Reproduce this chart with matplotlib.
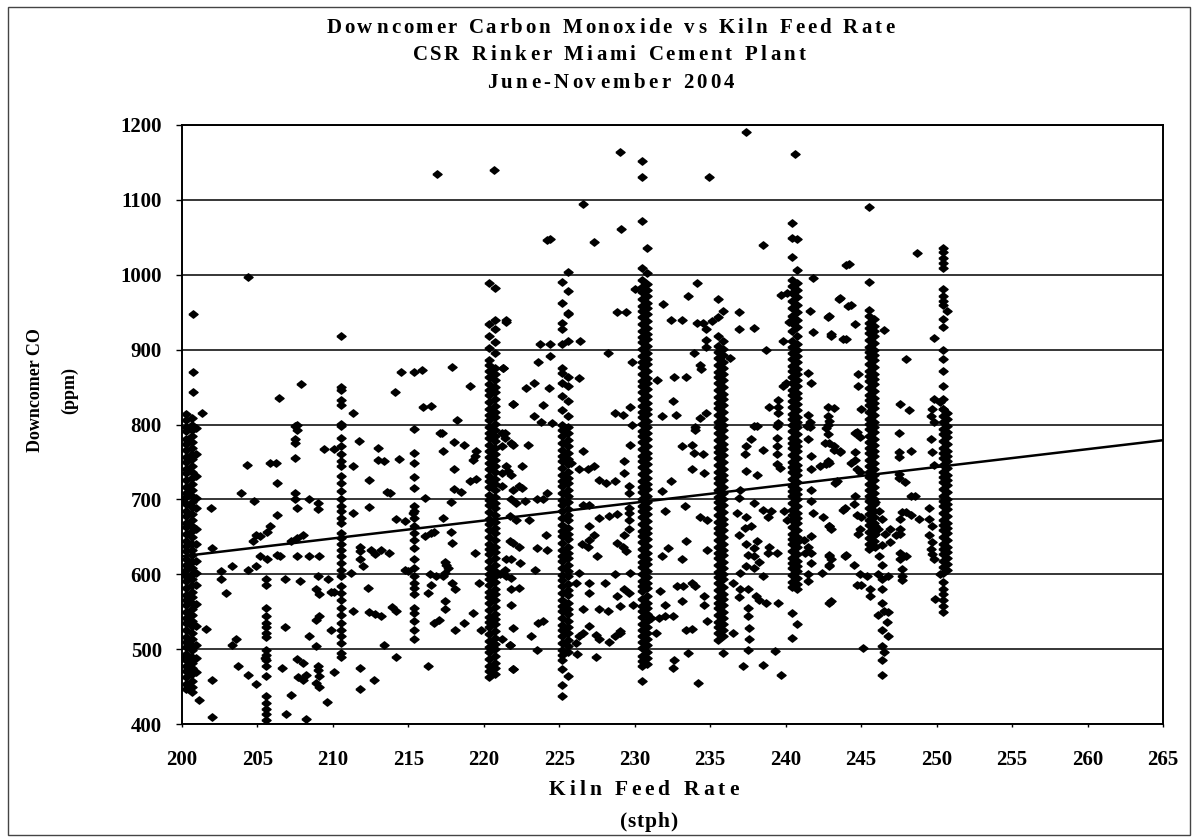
import numpy as np
import matplotlib
matplotlib.use("Agg")
import matplotlib.pyplot as plt
from matplotlib.patches import Rectangle
from matplotlib.font_manager import FontProperties
from matplotlib.textpath import TextPath

plt.rcParams['font.family'] = ['Liberation Serif', 'DejaVu Serif']
plt.rcParams['font.weight'] = 'bold'

# --- dense vertical clusters (feed rate held steady), y values ---
col_200a = [814, 806, 797, 791, 781, 774, 766, 756, 750, 741, 735, 726, 716, 709, 703, 694, 684, 678, 669, 663, 654,
            644, 638, 631, 621, 612, 606, 597, 591, 582, 572, 566, 559, 549, 542, 535, 526, 516, 510, 503, 494,
            485, 478, 471, 463, 454, 447]
col_200b = [809, 799, 793, 785, 777, 768, 760, 754, 745, 736, 729, 721, 713, 704, 697, 690, 681, 672, 665, 658,
            650, 640, 633, 626, 617, 608, 601, 594, 586, 576, 569, 562, 553, 545, 538, 531, 521, 513, 506, 499,
            490, 481, 475, 467, 458, 450, 443]
col_200c = [795, 760, 731, 702, 688, 660, 640, 618, 602, 586, 560, 531, 505, 488, 470]
col_205 = [593, 586, 555, 544, 535, 529, 522, 516, 499, 492, 485, 477, 464, 437, 428, 420, 413, 405]
col_210 = [918, 850, 846, 833, 826, 801, 798, 782, 771, 760, 751, 744, 731, 722, 711, 700, 691, 684, 675, 669,
           655, 648, 640, 633, 624, 615, 606, 597, 584, 575, 566, 555, 546, 535, 526, 517, 508, 495, 490]
col_215 = [762, 748, 730, 715, 691, 684, 675, 664, 655, 646, 635, 620, 608, 597, 588, 581, 573, 555, 548, 537,
           526, 513]
col_220a = [989, 934, 918, 902, 886, 880, 872, 863, 854, 846, 839, 830, 821, 813, 806, 797, 789, 782, 773, 764,
            757, 749, 740, 731, 724, 716, 706, 699, 692, 683, 674, 667, 659, 650, 641, 634, 627, 618, 608, 601,
            594, 585, 576, 569, 561, 552, 543, 536, 529, 520, 511, 503, 496, 487, 478, 471, 463]
col_220b = [982, 940, 927, 910, 895, 876, 868, 859, 850, 843, 834, 825, 817, 810, 801, 792, 785, 778, 769, 760,
            752, 745, 736, 727, 720, 712, 703, 695, 688, 679, 670, 662, 655, 646, 637, 630, 622, 612, 605, 598,
            589, 580, 573, 566, 556, 547, 540, 533, 524, 515, 507, 500, 491, 482, 475, 467]
col_225a = [990, 962, 935, 927, 907, 876, 869, 856, 838, 820, 800, 792, 784, 775, 766, 758, 751, 742, 732, 725,
            718, 708, 699, 692, 684, 675, 666, 658, 651, 642, 632, 625, 618, 608, 599, 592, 584, 575, 566, 558,
            551, 542, 532, 525, 518, 508, 499, 492, 486, 473, 452, 437]
col_225b = [1004, 978, 949, 947, 911, 864, 851, 831, 811, 789, 796, 779, 771, 762, 754, 747, 737, 729, 722, 712,
            704, 697, 687, 679, 672, 662, 654, 647, 637, 629, 622, 612, 604, 597, 587, 579, 572, 562, 554, 547,
            537, 529, 522, 512, 504, 496, 464]
col_230a = [1152, 1130, 1072, 1009, 993, 984, 977, 967, 958, 951, 943, 934, 925, 917, 910, 901, 891, 884, 877,
            867, 858, 851, 843, 834, 825, 817, 810, 801, 791, 784, 777, 767, 758, 751, 743, 734, 725, 717, 710,
            701, 691, 684, 677, 667, 658, 651, 643, 634, 625, 617, 610, 601, 591, 584, 577, 567, 558, 551, 543,
            534, 525, 517, 510, 501, 491, 484, 477, 457]
col_230b = [1036, 1002, 988, 980, 971, 962, 955, 947, 938, 929, 921, 914, 905, 896, 888, 881, 871, 862, 855, 847,
            838, 829, 821, 814, 805, 796, 788, 781, 771, 762, 755, 747, 738, 729, 721, 714, 705, 696, 688, 681,
            671, 662, 655, 647, 638, 629, 621, 614, 605, 596, 588, 581, 571, 562, 555, 547, 538, 529, 521, 514,
            505, 496, 488, 480]
col_235a = [967, 944, 918, 905, 897, 889, 880, 870, 863, 856, 846, 837, 829, 822, 813, 803, 796, 789, 779, 770,
            763, 755, 746, 737, 729, 722, 712, 703, 696, 688, 679, 670, 662, 655, 646, 636, 629, 622, 612, 603,
            596, 588, 579, 570, 562, 555, 546, 536, 529, 521, 512]
col_235b = [951, 912, 901, 893, 884, 875, 867, 860, 850, 841, 834, 826, 817, 808, 800, 793, 783, 774, 767, 759,
            750, 741, 733, 726, 717, 708, 700, 693, 683, 674, 667, 659, 650, 641, 633, 626, 617, 608, 600, 593,
            583, 574, 567, 559, 550, 541, 533, 525, 517, 495]
col_240a = [1069, 1049, 1024, 993, 985, 975, 965, 955, 945, 935, 925, 911, 903, 896, 887, 878, 871, 864, 855,
            846, 839, 832, 823, 814, 807, 800, 791, 782, 775, 768, 759, 750, 743, 736, 727, 718, 711, 704, 695,
            686, 679, 672, 663, 654, 647, 640, 631, 622, 615, 608, 599, 590, 583, 548, 515]
col_240b = [1048, 1007, 989, 980, 970, 960, 950, 940, 930, 918, 907, 899, 892, 883, 874, 867, 860, 851, 842, 835,
            828, 819, 810, 803, 796, 787, 778, 771, 764, 755, 746, 739, 732, 723, 714, 707, 700, 691, 682, 675,
            668, 659, 650, 643, 636, 627, 618, 611, 604, 595, 587, 580, 533]
col_245a = [1090, 990, 953, 945, 936, 929, 922, 913, 904, 897, 890, 881, 872, 865, 858, 849, 840, 833, 826, 817,
            808, 801, 794, 785, 776, 769, 762, 753, 744, 737, 730, 721, 712, 705, 698, 689, 680, 673, 666, 657,
            648, 641, 634]
col_245b = [941, 932, 925, 918, 909, 900, 893, 886, 877, 868, 861, 854, 845, 836, 829, 822, 813, 804, 797, 790,
            781, 772, 765, 758, 749, 740, 733, 726, 717, 708, 701, 694, 685, 676, 669, 662, 653, 645, 638]
col_250a = [1036, 1030, 1023, 1016, 1009, 981, 972, 965, 959, 941, 930, 899, 888, 872, 852, 834, 821, 812, 803,
            794, 787, 778, 769, 762, 755, 746, 737, 730, 723, 714, 705, 698, 691, 682, 673, 666, 659, 650, 641,
            634, 627, 618, 610, 602, 589, 580, 574, 565, 558, 549]
col_250b = [952, 816, 808, 798, 790, 783, 774, 765, 758, 751, 742, 733, 726, 719, 710, 701, 694, 687, 678, 669,
            662, 655, 646, 637, 630, 622, 614, 606]

columns = [(200.25, col_200a), (200.65, col_200b), (200.95, col_200c), (205.55, col_205), (210.55, col_210),
           (215.4, col_215), (220.35, col_220a), (220.75, col_220b), (225.2, col_225a), (225.55, col_225b),
           (230.45, col_230a), (230.8, col_230b), (235.5, col_235a), (235.85, col_235b), (240.4, col_240a),
           (240.75, col_240b), (245.5, col_245a), (245.85, col_245b), (250.45, col_250a), (250.7, col_250b)]

# --- scattered readings between the clusters: (feed rate, CO) ---
scatter_200_212 = [
    (200.0, 700), (200.0, 600), (200.0, 488), (200.75, 948), (200.7, 870), (200.7, 844), (201.1, 432),
    (201.3, 815), (201.9, 689), (202.0, 635), (202.6, 604), (202.6, 593), (202.9, 575), (203.3, 611),
    (202.0, 459), (202.0, 409), (201.6, 527), (204.3, 746), (203.9, 708), (204.8, 698), (205.8, 749),
    (206.2, 749), (206.3, 722), (206.3, 679), (205.8, 665), (205.6, 657), (204.9, 653), (205.2, 651),
    (204.7, 645), (205.2, 624), (205.6, 620), (204.9, 611), (204.4, 606), (206.3, 626), (206.8, 594),
    (206.5, 624), (206.8, 530), (207.2, 644), (207.6, 649), (208.0, 652), (207.6, 625), (207.8, 591),
    (207.5, 709), (207.5, 700), (207.6, 689), (207.5, 798), (207.5, 780), (207.5, 775), (207.5, 755),
    (203.7, 477), (204.4, 466), (204.9, 453), (203.3, 506), (203.6, 514), (206.6, 475), (207.2, 439),
    (206.9, 413), (208.2, 407), (207.6, 487), (208.0, 482), (208.2, 466), (208.0, 459), (207.7, 463),
    (209.0, 477), (209.0, 472), (209.1, 464), (208.9, 455), (209.1, 450), (209.6, 430), (208.4, 517),
    (208.9, 504), (209.4, 767), (210.1, 767), (209.0, 687), (208.4, 700), (209.0, 695), (209.1, 624),
    (208.4, 624), (209.7, 593), (209.0, 597), (208.9, 580), (209.1, 573), (209.9, 576), (210.1, 576),
    (208.9, 539), (209.1, 544), (209.9, 526), (210.1, 470), (211.3, 744), (211.7, 778), (212.4, 726),
    (204.4, 997), (206.4, 836), (207.9, 854), (207.6, 799), (207.6, 793), (211.3, 815), (205.5, 488),
    (211.3, 682), (211.8, 637), (211.8, 631), (211.8, 620), (212.0, 611), (211.2, 602), (211.3, 551),
    (212.3, 582), (212.4, 690), (211.8, 475), (211.8, 447), (212.7, 459), (212.4, 549), (212.8, 547),
]
scatter_212_224 = [
    (213.0, 768), (213.0, 753), (213.4, 751), (214.4, 754), (213.6, 710), (213.8, 708), (212.5, 633),
    (213.2, 633), (213.7, 629), (212.8, 627), (213.2, 544), (213.9, 556), (214.2, 551), (213.4, 506),
    (214.2, 490), (214.2, 674), (214.8, 671), (215.3, 682), (214.8, 606), (215.0, 604), (216.1, 702),
    (216.5, 655), (216.7, 657), (216.1, 651), (216.4, 600), (216.8, 598), (216.3, 575), (216.5, 585),
    (216.7, 535), (217.0, 539), (216.3, 477), (217.1, 788), (217.3, 764), (218.0, 776), (218.7, 772),
    (218.0, 740), (218.0, 714), (218.5, 710), (217.8, 696), (217.3, 675), (217.8, 656), (217.9, 642),
    (217.4, 617), (217.5, 613), (217.6, 608), (217.4, 602), (217.3, 597), (217.9, 588), (218.1, 580),
    (217.4, 564), (217.4, 553), (218.1, 526), (218.7, 535), (219.3, 753), (219.4, 758), (219.5, 764),
    (219.1, 724), (219.5, 727), (219.4, 628), (219.7, 588), (219.3, 548), (219.8, 526), (216.9, 1135),
    (220.7, 1140), (221.5, 937), (221.3, 875), (221.9, 827), (214.1, 844), (214.5, 870), (215.4, 870),
    (215.9, 873), (217.9, 877), (219.1, 852), (216.0, 823), (216.5, 825), (218.2, 806), (215.4, 794),
    (217.2, 789), (221.4, 789), (221.2, 789), (221.4, 782), (221.9, 773), (221.2, 735), (221.8, 733),
    (221.2, 718), (221.9, 712), (222.1, 695), (221.7, 678), (222.1, 673), (221.9, 642), (221.8, 620),
    (221.4, 606), (221.5, 597), (221.8, 580), (221.2, 513), (221.7, 506), (221.9, 473), (221.5, 939),
    (221.3, 876), (221.9, 828), (222.8, 849), (223.3, 856), (223.6, 884), (224.4, 891), (223.7, 907),
    (224.4, 907), (224.3, 849), (223.9, 826), (223.3, 811), (223.8, 804), (224.5, 802), (224.4, 1048),
    (221.2, 771), (221.8, 775), (222.9, 773), (221.5, 744), (221.6, 738), (222.5, 745), (222.3, 718),
    (222.5, 715), (224.2, 709), (223.5, 700), (223.9, 700), (221.8, 700), (222.7, 698), (223.0, 673),
    (221.7, 644), (222.3, 637), (223.5, 635), (224.2, 633), (224.1, 653), (221.5, 620), (222.4, 615),
    (223.4, 606), (221.1, 600), (221.8, 595), (222.3, 582), (221.8, 559), (221.9, 528), (223.6, 535),
    (223.9, 537), (223.1, 517), (221.7, 505), (223.5, 499), (221.9, 473),
]
scatter_224_236 = [
    (229.0, 1164), (237.4, 1191), (234.9, 1131), (226.6, 1094), (227.3, 1044), (229.1, 1061),
    (226.4, 911), (228.2, 896), (228.8, 950), (229.4, 950), (230.0, 981), (229.8, 883), (231.5, 859),
    (231.9, 961), (232.4, 939), (233.1, 939), (232.6, 864), (233.4, 864), (234.1, 989), (233.5, 972),
    (234.1, 936), (234.5, 935), (235.1, 938), (234.7, 927), (234.7, 913), (234.7, 904), (233.9, 896),
    (234.3, 880), (234.4, 874), (226.3, 862), (234.3, 809), (234.7, 816), (234.0, 796), (232.5, 831),
    (232.7, 813), (231.8, 811), (228.7, 816), (229.2, 813), (229.7, 823), (229.8, 800), (236.3, 889),
    (236.9, 950), (236.9, 927), (237.9, 929), (226.6, 764), (225.8, 749), (226.3, 740), (226.9, 740),
    (227.3, 744), (227.6, 726), (228.1, 722), (228.7, 724), (226.6, 693), (227.0, 693), (227.6, 675),
    (228.3, 678), (228.8, 680), (227.0, 664), (227.3, 653), (227.0, 646), (226.5, 640), (226.9, 637),
    (227.5, 624), (226.3, 602), (226.1, 588), (227.0, 588), (227.0, 575), (226.6, 553), (227.6, 553),
    (228.2, 551), (226.3, 517), (226.6, 522), (227.0, 531), (227.4, 519), (227.6, 513), (226.1, 508),
    (226.2, 493), (227.4, 490), (228.0, 588), (228.7, 600), (228.8, 571), (229.0, 557), (228.7, 517),
    (229.0, 524), (229.3, 751), (229.3, 735), (229.7, 773), (229.6, 718), (229.6, 709), (229.6, 689),
    (229.6, 682), (229.6, 673), (229.6, 660), (228.8, 642), (229.2, 637), (229.3, 653), (229.4, 631),
    (229.3, 580), (229.6, 575), (229.9, 559), (229.7, 602), (229.0, 522), (228.3, 510), (231.1, 542),
    (231.6, 542), (232.0, 544), (232.5, 544), (231.4, 522), (232.4, 724), (231.8, 711), (232.0, 684),
    (231.8, 624), (232.2, 635), (231.7, 577), (232.0, 559), (232.8, 584), (233.2, 584), (233.1, 564),
    (232.6, 486), (232.5, 475), (233.1, 771), (233.8, 773), (233.9, 762), (234.5, 760), (233.8, 740),
    (234.6, 735), (234.0, 793), (233.3, 691), (233.1, 620), (233.4, 644), (234.3, 677), (234.8, 673),
    (233.8, 588), (234.0, 584), (234.8, 633), (234.6, 571), (234.6, 559), (234.8, 537), (233.4, 526),
    (233.8, 527), (233.5, 495), (234.2, 455), (224.2, 1047),
]
scatter_236_252 = [
    (236.5, 522), (237.4, 771), (237.7, 780), (237.3, 760), (238.5, 766), (237.4, 738), (238.1, 733),
    (237.9, 798), (239.4, 798), (239.4, 782), (239.4, 771), (239.4, 760), (239.4, 747), (239.6, 742),
    (237.0, 713), (236.9, 702), (237.9, 695), (238.5, 686), (237.4, 677), (238.8, 677), (239.0, 684),
    (239.9, 684), (240.1, 673), (236.8, 682), (237.3, 662), (237.7, 664), (236.9, 653), (237.4, 640),
    (237.9, 635), (238.1, 644), (237.5, 626), (237.9, 624), (238.2, 617), (237.4, 611), (237.9, 608),
    (238.8, 628), (239.4, 628), (238.9, 637), (237.0, 602), (238.5, 597), (236.5, 588), (237.0, 580),
    (237.5, 580), (238.0, 571), (238.2, 566), (238.7, 562), (239.5, 562), (237.5, 555), (237.5, 544),
    (237.6, 528), (237.6, 513), (237.5, 499), (237.2, 477), (238.5, 479), (239.3, 497), (239.7, 466),
    (236.9, 569), (238.5, 1040), (238.7, 900), (240.6, 1161), (239.7, 973), (240.1, 976), (240.2, 937),
    (239.8, 911), (241.8, 996), (241.6, 951), (241.8, 924), (242.8, 943), (243.0, 918), (243.8, 914),
    (243.5, 968), (244.0, 1013), (244.1, 958), (241.5, 869), (241.7, 856), (239.8, 851), (240.0, 856),
    (239.5, 833), (239.5, 824), (239.5, 816), (238.9, 824), (239.5, 802), (241.5, 813), (241.6, 804),
    (241.6, 796), (242.8, 824), (242.8, 811), (242.8, 800), (242.8, 787), (238.1, 798), (241.4, 798),
    (241.5, 780), (241.7, 758), (241.7, 740), (242.3, 744), (242.8, 751), (242.7, 795), (242.6, 775),
    (243.2, 771), (243.6, 764), (242.7, 747), (241.7, 713), (241.7, 698), (241.8, 682), (242.5, 677),
    (242.9, 664), (243.0, 660), (241.7, 651), (241.5, 637), (241.7, 629), (241.7, 615), (241.2, 646),
    (241.3, 628), (241.5, 600), (241.5, 591), (242.9, 626), (243.0, 620), (242.9, 611), (242.4, 602),
    (243.0, 564), (243.8, 686), (244.0, 626), (243.3, 722), (248.7, 1029), (244.2, 1014), (243.6, 969),
    (244.3, 959), (242.9, 945), (243.0, 921), (244.6, 934), (244.0, 914), (246.5, 926), (249.8, 916),
    (248.0, 888), (247.6, 828), (248.2, 819), (247.5, 788), (244.8, 868), (244.8, 852), (245.0, 821),
    (244.6, 788), (249.8, 834), (249.7, 821), (249.6, 812), (249.8, 803), (243.2, 822), (242.9, 805),
    (244.7, 790), (244.9, 783), (244.6, 763), (242.9, 775), (243.2, 766), (243.6, 763), (242.9, 748),
    (243.4, 725), (244.3, 748), (244.6, 752), (244.7, 741), (244.9, 737), (247.5, 763), (247.5, 757),
    (248.3, 764), (247.5, 734), (247.5, 728), (247.9, 723), (249.7, 763), (249.8, 746), (249.6, 781),
    (248.3, 705), (248.6, 705), (244.6, 705), (244.5, 694), (243.9, 688), (242.9, 665), (244.7, 679),
    (245.0, 676), (244.9, 661), (244.8, 654), (245.9, 696), (246.2, 685), (246.4, 674), (245.9, 665),
    (246.1, 661), (245.9, 654), (246.6, 654), (246.9, 661), (247.3, 652), (246.9, 643), (246.4, 639),
    (245.9, 636), (247.6, 674), (247.7, 683), (248.0, 683), (248.3, 679), (248.8, 674), (247.6, 661),
    (247.6, 654), (242.9, 625), (242.9, 612), (243.9, 625), (244.5, 612), (244.9, 600), (245.4, 598),
    (245.0, 585), (245.6, 580), (244.7, 585), (245.6, 571), (246.2, 625), (246.4, 612), (246.1, 600),
    (246.4, 594), (246.8, 598), (246.4, 580), (246.4, 562), (246.5, 551), (246.1, 545), (246.8, 549),
    (246.7, 536), (246.4, 525), (246.8, 518), (246.4, 504), (246.5, 496), (246.4, 486), (246.4, 466),
    (245.1, 502), (247.6, 629), (247.6, 621), (248.0, 625), (247.7, 607), (247.7, 598), (247.7, 592),
    (242.9, 562), (249.5, 688), (249.5, 674), (249.7, 665), (249.5, 652), (249.7, 643), (249.6, 634),
    (249.7, 627), (249.8, 621), (250.2, 600), (249.9, 567), (250.2, 830), (250.4, 821), (250.6, 816),
]

# least-squares trend line end points, as drawn on the chart
trend_x = [200, 265]
trend_y = [624, 779]

W, H = 1196, 839
fig = plt.figure(figsize=(W / 100, H / 100), dpi=100)
ax = fig.add_axes([182 / W, 1 - 724 / H, (1163 - 182) / W, (724 - 125) / H])

diamond = [(-1, 0), (0, 0.8), (1, 0), (0, -0.8), (-1, 0)]
mk = dict(marker=diamond, markersize=6.6, color='black', linestyle='none')

for x, ys in columns:
    ax.plot([x] * len(ys), ys, **mk)
for pts in (scatter_200_212, scatter_212_224, scatter_224_236, scatter_236_252):
    xs, ys = zip(*pts)
    ax.plot(xs, ys, **mk)

ax.plot(trend_x, trend_y, color='black', lw=1.8)

ax.set_xlim(200, 265)
ax.set_ylim(400, 1200)
ax.set_xticks(range(200, 266, 5))
ax.set_yticks(range(400, 1201, 100))
ax.yaxis.grid(True, color='black', lw=1.1)
ax.set_axisbelow(True)
for s in ax.spines.values():
    s.set_linewidth(1.4)
for lab in ax.get_yticklabels():
    lab.set_fontweight('bold')
ax.tick_params(axis='y', direction='out', length=4.5, width=1.0, labelsize=15, pad=10)
ax.tick_params(axis='x', direction='out', length=2.5, width=1.0, labelbottom=False)

# x tick labels sit well below the axis on the original chart
for v in ax.get_xticks():
    ax.text(v, -(760 - 724) / (724 - 125), f"{v:g}", transform=ax.get_xaxis_transform(), ha='center',
            va='center', fontsize=15, fontweight='bold')


def tracked_text(xc, yc, s, size, width):
    # Excel-style letter spacing: spread characters over the width seen on the chart
    prop = FontProperties(family='Liberation Serif', weight='bold', size=size)
    widths = []
    for c in s:
        if c == ' ':
            widths.append(size * 0.25 * 100 / 72)
        else:
            widths.append(TextPath((0, 0), c, prop=prop).get_extents().width * 100 / 72)
    gap = (width - sum(widths)) / (len(s) - 1)
    x = xc - width / 2
    for c, w in zip(s, widths):
        fig.text(x / W, 1 - yc / H, c, ha='left', va='center', fontproperties=prop)
        x += w + gap


tracked_text(610, 28, "Downcomer Carbon Monoxide vs Kiln Feed Rate", 15, 566)
tracked_text(609, 55, "CSR Rinker Miami Cement Plant", 15, 392)
tracked_text(610, 83, "June-November 2004", 15, 246)
tracked_text(643, 790, "Kiln Feed Rate", 15.5, 189)
tracked_text(648, 822, "(stph)", 15.5, 56)

fig.text(36 / W, 1 - 390 / H, "Downcomer CO", ha='center', va='center', rotation=90, fontsize=13,
         fontweight='bold')
fig.text(70 / W, 1 - 390 / H, "(ppm)", ha='center', va='center', rotation=90, fontsize=13,
         fontweight='bold')

fig.patches.append(Rectangle((8 / W, 4 / H), 1182 / W, 828 / H, transform=fig.transFigure,
                             fill=False, edgecolor='#444444', lw=1.0))

fig.savefig("out.png", dpi=100)
